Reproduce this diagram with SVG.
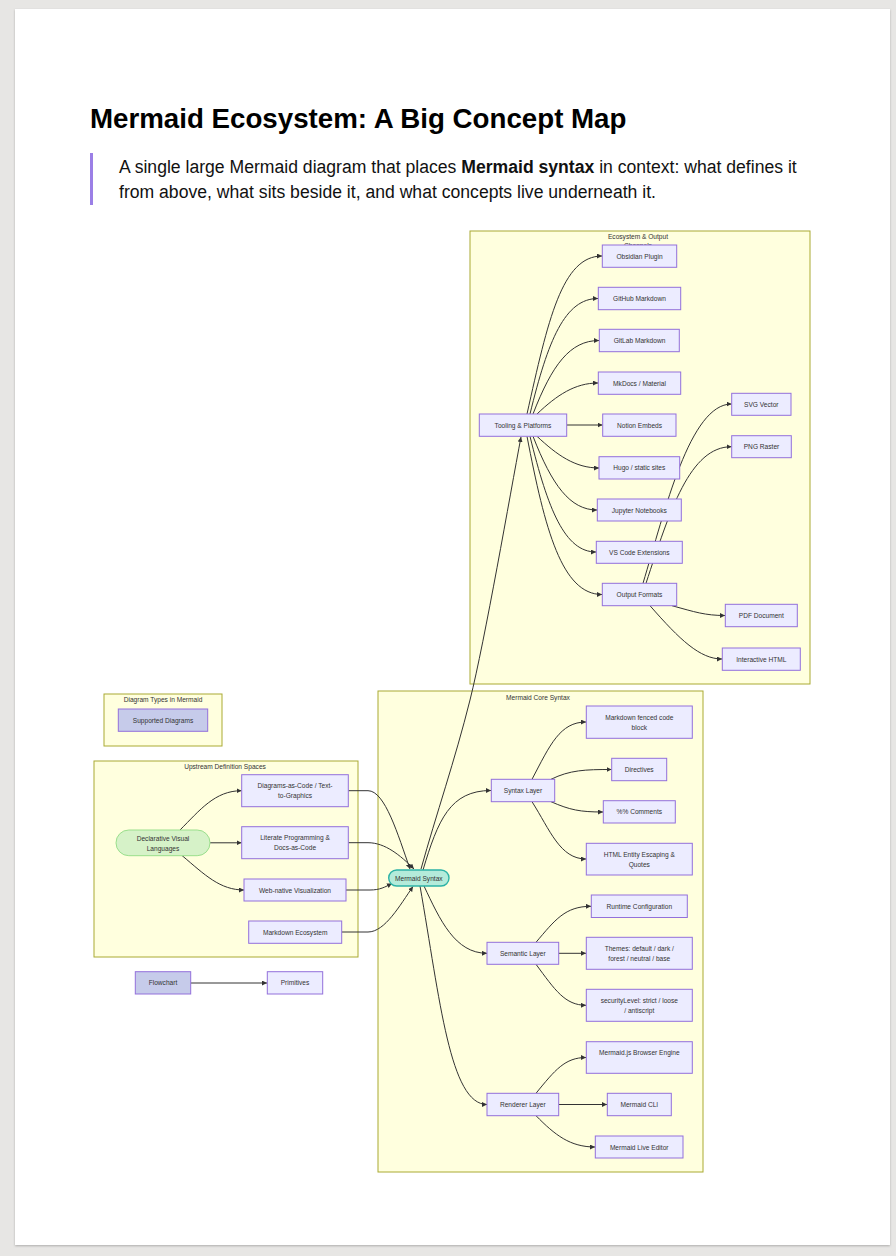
<svg xmlns="http://www.w3.org/2000/svg" width="896" height="1256" viewBox="0 0 896 1256">
<style>
.page{fill:#ffffff;}
.cl{fill:#ffffde;stroke:#aaaa33;stroke-width:1;}
.n{fill:#ececff;stroke:#9370db;stroke-width:1;}
.nd{fill:#c6cbea;stroke:#9370db;stroke-width:1;}
.ms{fill:#b4ebda;stroke:#2db3a6;stroke-width:1.4;}
.dv{fill:#d6f2c8;stroke:#9adf8c;stroke-width:1;}
.t{font-family:"Liberation Sans",Arial,sans-serif;font-size:6.6px;fill:#333;text-anchor:middle;dominant-baseline:central;}
.ct{font-family:"Liberation Sans",Arial,sans-serif;font-size:6.6px;fill:#333;text-anchor:middle;dominant-baseline:central;}
.e{fill:none;stroke:#333;stroke-width:1;marker-end:url(#ah);}
.h1{font-family:"Liberation Sans",Arial,sans-serif;font-size:27.7px;font-weight:bold;fill:#000;}
.p{font-family:"Liberation Sans",Arial,sans-serif;font-size:17.6px;fill:#111;}
</style>
<defs>
<marker id="ah" viewBox="0 0 10 10" refX="10" refY="5" markerUnits="userSpaceOnUse" markerWidth="5" markerHeight="5" orient="auto">
<path d="M0,0 L10,5 L0,10 z" fill="#333"/>
</marker>
<filter id="sh" x="-5%" y="-5%" width="110%" height="110%">
<feDropShadow dx="0" dy="1" stdDeviation="1" flood-color="#000" flood-opacity="0.25"/>
</filter>
</defs>
<rect x="0" y="0" width="896" height="1256" fill="#e7e6e4"/>
<rect class="page" x="15" y="9" width="875" height="1236" filter="url(#sh)"/>

<g id="header">
<text class="h1" x="90" y="128">Mermaid Ecosystem: A Big Concept Map</text>
<rect x="90" y="153" width="3" height="52" fill="#9b7fe6"/>
<text class="p" x="119" y="173">A single large Mermaid diagram that places <tspan font-weight="bold">Mermaid syntax</tspan> in context: what defines it</text>
<text class="p" x="119" y="198">from above, what sits beside it, and what concepts live underneath it.</text>
</g>

<!-- clusters -->
<g id="cluster-ecosystem">
<rect class="cl" x="470" y="231" width="340" height="453"/>
<text class="ct" x="638" y="236">Ecosystem &amp; Output</text>
<text class="ct" x="638" y="245">Channels</text>
</g>
<g id="cluster-core">
<rect class="cl" x="378" y="691" width="325" height="481"/>
<text class="ct" x="538" y="697">Mermaid Core Syntax</text>
</g>
<g id="cluster-upstream">
<rect class="cl" x="94" y="761" width="264" height="196"/>
<text class="ct" x="225" y="766">Upstream Definition Spaces</text>
</g>
<g id="cluster-types">
<rect class="cl" x="104" y="694" width="118" height="52"/>
<text class="ct" x="163" y="699">Diagram Types in Mermaid</text>
</g>

<!-- connectors -->
<g id="connectors">
<path class="e" d="M421,869 C436,815 455,760 470,700 C485,640 510,495 521,437"/>
<path class="e" d="M527,414 C548,320 562,256 602,256"/>
<path class="e" d="M530,414 C548,340 565,298.5 598,298.5"/>
<path class="e" d="M533,414 C552,365 570,340.5 599,340.5"/>
<path class="e" d="M537,414 C557,395 575,383 598,383"/>
<path class="e" d="M566.7,425 L602.5,425"/>
<path class="e" d="M537,436.3 C557,455 575,468 599,468"/>
<path class="e" d="M533,436.3 C552,485 570,510 597,510"/>
<path class="e" d="M530,436.3 C548,510 565,552 596,552"/>
<path class="e" d="M527,436.3 C545,530 562,594.5 602,594.5"/>
<path class="e" d="M643,583.3 C665,510 690,404 731.5,404"/>
<path class="e" d="M646,583.3 C670,510 690,446.7 731.5,446.7"/>
<path class="e" d="M672,605.7 C695,612 705,615.5 725,615.5"/>
<path class="e" d="M650,605.7 C680,640 700,659 722,659"/>

<path class="e" d="M423,870 C438,820 450,790.5 491,790.5"/>
<path class="e" d="M424,886 C440,920 455,953.3 487,953.3"/>
<path class="e" d="M420,886 C440,1000 450,1104.5 487,1104.5"/>
<path class="e" d="M532,779.3 C550,745 560,722 586,722"/>
<path class="e" d="M551,779.3 C570,770 585,769.5 611.5,769.5"/>
<path class="e" d="M551,801.7 C570,810 580,812 603,812"/>
<path class="e" d="M532,801.7 C550,830 560,859 586,859"/>
<path class="e" d="M536,942.3 C555,920 565,906.3 591,906.3"/>
<path class="e" d="M558.7,953.3 L586,953.3"/>
<path class="e" d="M536,964.3 C555,990 565,1005.3 586,1005.3"/>
<path class="e" d="M536,1093.3 C555,1070 565,1057.5 586,1057.5"/>
<path class="e" d="M558.7,1104.5 L607,1104.5"/>
<path class="e" d="M536,1115.7 C555,1135 570,1147 595,1147"/>

<path class="e" d="M180,830 C200,810 215,790.7 241.5,790.7"/>
<path class="e" d="M210,842.8 L241.5,842.8"/>
<path class="e" d="M182,855.5 C205,875 220,890 244,890"/>
<path class="e" d="M348.3,790.7 L368,790.7 C385,790.7 398,835 410,869"/>
<path class="e" d="M348.3,842.7 L368,842.7 C385,842.7 400,855 414,869"/>
<path class="e" d="M346,890 L370,890 C380,890 385,887 392,883.5"/>
<path class="e" d="M341.7,932 L368,932 C385,932 400,905 413,886.5"/>
<path class="e" d="M190.7,983 L267,983"/>
</g>

<!-- ecosystem nodes -->
<g id="obsidian"><rect class="n" x="602.3" y="245" width="74.4" height="22.3"/><text class="t" x="639.5" y="256.2">Obsidian Plugin</text></g>
<g id="github"><rect class="n" x="598.3" y="287.3" width="82.4" height="22.4"/><text class="t" x="639.5" y="298.5">GitHub Markdown</text></g>
<g id="gitlab"><rect class="n" x="599.3" y="329.3" width="80" height="22.4"/><text class="t" x="639.5" y="340.5">GitLab Markdown</text></g>
<g id="mkdocs"><rect class="n" x="598.3" y="372" width="82.4" height="22.3"/><text class="t" x="639.5" y="383.2">MkDocs / Material</text></g>
<g id="notion"><rect class="n" x="602.7" y="414" width="73.3" height="22.3"/><text class="t" x="639.5" y="425.2">Notion Embeds</text></g>
<g id="tooling"><rect class="n" x="479.3" y="414" width="87.4" height="22.3"/><text class="t" x="523" y="425.2">Tooling &amp; Platforms</text></g>
<g id="svg-vector"><rect class="n" x="731.7" y="393.3" width="59.3" height="22"/><text class="t" x="761.3" y="404.3">SVG Vector</text></g>
<g id="png-raster"><rect class="n" x="731.7" y="435.7" width="59.6" height="22"/><text class="t" x="761.5" y="446.7">PNG Raster</text></g>
<g id="hugo"><rect class="n" x="599" y="456.7" width="80.7" height="22.3"/><text class="t" x="639.3" y="467.9">Hugo / static sites</text></g>
<g id="jupyter"><rect class="n" x="597.3" y="499" width="84" height="22"/><text class="t" x="639.3" y="510">Jupyter Notebooks</text></g>
<g id="vscode"><rect class="n" x="596.3" y="541.3" width="86" height="22"/><text class="t" x="639.3" y="552.3">VS Code Extensions</text></g>
<g id="output-formats"><rect class="n" x="602.3" y="583.3" width="74.4" height="22.4"/><text class="t" x="639.5" y="594.5">Output Formats</text></g>
<g id="pdf"><rect class="n" x="725.3" y="604.3" width="72" height="22.4"/><text class="t" x="761.3" y="615.5">PDF Document</text></g>
<g id="html"><rect class="n" x="722.3" y="648" width="78" height="22.3"/><text class="t" x="761.3" y="659.2">Interactive HTML</text></g>

<!-- core nodes -->
<g id="mermaid-syntax"><rect class="ms" x="388.7" y="870" width="60.3" height="16" rx="8" ry="8"/><text class="t" x="418.8" y="878">Mermaid Syntax</text></g>
<g id="syntax-layer"><rect class="n" x="491.3" y="779.3" width="63.4" height="22.4"/><text class="t" x="523" y="790.5">Syntax Layer</text></g>
<g id="fenced"><rect class="n" x="586.3" y="706" width="106" height="32.3"/><text class="t" x="639.3" y="717">Markdown fenced code</text><text class="t" x="639.3" y="727">block</text></g>
<g id="directives"><rect class="n" x="611.7" y="758.3" width="55" height="22.4"/><text class="t" x="639.2" y="769.5">Directives</text></g>
<g id="comments"><rect class="n" x="603.3" y="800.7" width="72" height="22.3"/><text class="t" x="639.3" y="811.9">%% Comments</text></g>
<g id="html-entity"><rect class="n" x="586.3" y="843.3" width="106" height="31.7"/><text class="t" x="639.3" y="854">HTML Entity Escaping &amp;</text><text class="t" x="639.3" y="864">Quotes</text></g>
<g id="runtime"><rect class="n" x="591.3" y="895" width="96" height="22.5"/><text class="t" x="639.3" y="906.2">Runtime Configuration</text></g>
<g id="semantic-layer"><rect class="n" x="487" y="942.3" width="71.7" height="22"/><text class="t" x="522.8" y="953.3">Semantic Layer</text></g>
<g id="themes"><rect class="n" x="586.3" y="937.3" width="106" height="32"/><text class="t" x="639.3" y="948.3">Themes: default / dark /</text><text class="t" x="639.3" y="958.3">forest / neutral / base</text></g>
<g id="security"><rect class="n" x="586.3" y="989.3" width="106" height="32"/><text class="t" x="639.3" y="1000.3">securityLevel: strict / loose</text><text class="t" x="639.3" y="1010.3">/ antiscript</text></g>
<g id="mermaidjs"><rect class="n" x="586.3" y="1041.7" width="106" height="31.6"/><text class="t" x="639.3" y="1052.7">Mermaid.js Browser Engine</text></g>
<g id="renderer-layer"><rect class="n" x="487" y="1093.3" width="71.7" height="22.4"/><text class="t" x="522.8" y="1104.5">Renderer Layer</text></g>
<g id="cli"><rect class="n" x="607.3" y="1093.3" width="64" height="22.4"/><text class="t" x="639.3" y="1104.5">Mermaid CLI</text></g>
<g id="live-editor"><rect class="n" x="595.3" y="1136" width="87.7" height="22"/><text class="t" x="639.2" y="1147">Mermaid Live Editor</text></g>

<!-- left nodes -->
<g id="supported-diagrams"><rect class="nd" x="118.3" y="709" width="89.4" height="22.3"/><text class="t" x="163" y="720.2">Supported Diagrams</text></g>
<g id="declarative"><rect class="dv" x="116" y="830" width="94" height="25.7" rx="12.8" ry="12.8"/><text class="t" x="163" y="838">Declarative Visual</text><text class="t" x="163" y="848">Languages</text></g>
<g id="diagrams-as-code"><rect class="n" x="241.7" y="774.7" width="106.6" height="32"/><text class="t" x="295" y="785.7">Diagrams-as-Code / Text-</text><text class="t" x="295" y="795.7">to-Graphics</text></g>
<g id="literate"><rect class="n" x="241.7" y="826.7" width="106.6" height="32"/><text class="t" x="295" y="837.7">Literate Programming &amp;</text><text class="t" x="295" y="847.7">Docs-as-Code</text></g>
<g id="web-native"><rect class="n" x="244" y="879" width="102" height="22"/><text class="t" x="295" y="890">Web-native Visualization</text></g>
<g id="markdown-eco"><rect class="n" x="248.7" y="921" width="93" height="22.3"/><text class="t" x="295.2" y="932.2">Markdown Ecosystem</text></g>
<g id="flowchart"><rect class="nd" x="135.3" y="971.7" width="55.4" height="22.3"/><text class="t" x="163" y="982.9">Flowchart</text></g>
<g id="primitives"><rect class="n" x="267.3" y="971.7" width="55.4" height="22.3"/><text class="t" x="295" y="982.9">Primitives</text></g>
</svg>
